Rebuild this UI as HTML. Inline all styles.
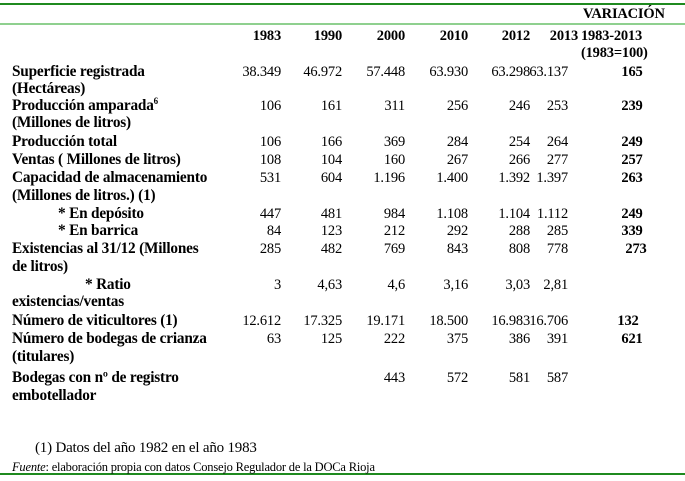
<!DOCTYPE html>
<html><head><meta charset="utf-8"><style>
body{margin:0;width:685px;height:481px;background:#fff;position:relative;overflow:hidden;font-family:"Liberation Serif","Times New Roman","DejaVu Serif",serif;font-size:14.5px;color:#000}
div.t{position:absolute;white-space:nowrap;line-height:16px;font-family:"Liberation Serif","Times New Roman","DejaVu Serif",serif;letter-spacing:-0.2px}
div.l{font-size:15.3px}
.b{font-weight:bold}
sup{font-size:9px;line-height:0;vertical-align:6px}
</style></head><body>
<div style="position:absolute;left:0;top:3px;width:685px;height:2px;background:#1f8a1f"></div>
<div style="position:absolute;left:0;top:23px;width:685px;height:2px;background:#8fd08f"></div>
<div style="position:absolute;left:0;top:473px;width:685px;height:2px;background:#1f8a1f"></div>
<div class="t b" style="left:583px;top:6px">VARIACIÓN</div>
<div class="t b" style="left:581px;top:28px">1983-2013</div>
<div class="t b" style="left:581px;top:45px">(1983=100)</div>
<script>
var cols=[281,342,405,468,530,568];
function cell(x,y,s,cls){var d=document.createElement('div');d.className='t '+(cls||'');d.style.top=(y-8)+'px';d.style.left=(x-80)+'px';d.style.width='80px';d.style.textAlign='right';d.textContent=s;document.body.appendChild(d);}
function lab(x,y,s){var d=document.createElement('div');d.className='t l b';d.style.left=x+'px';d.style.top=(y-8)+'px';d.innerHTML=s;document.body.appendChild(d);}
var yrs=['1983','1990','2000','2010','2012','2013'];
yrs.forEach(function(v,i){cell(i==5?578:cols[i],36,v,'b');});
var rows=[
[72,12,'Superficie registrada',['38.349','46.972','57.448','63.930','63.298','63.137'],'165'],
[89,12,'(Hectáreas)'],
[106,12,'Producción amparada<sup>6</sup>',['106','161','311','256','246','253'],'239'],
[123,12,'(Millones de litros)'],
[142,12,'Producción total',['106','166','369','284','254','264'],'249'],
[160,12,'Ventas ( Millones de litros)',['108','104','160','267','266','277'],'257'],
[178,12,'Capacidad de almacenamiento',['531','604','1.196','1.400','1.392','1.397'],'263'],
[196,12,'(Millones de litros.) (1)'],
[214,58,'* En depósito',['447','481','984','1.108','1.104','1.112'],'249'],
[231,58,'* En barrica',['84','123','212','292','288','285'],'339'],
[249,12,'Existencias al 31/12 (Millones',['285','482','769','843','808','778'],'273',4],
[267,12,'de litros)'],
[285,85,'* Ratio',['3','4,63','4,6','3,16','3,03','2,81']],
[302,12,'existencias/ventas'],
[321,12,'Número de viticultores (1)',['12.612','17.325','19.171','18.500','16.983','16.706'],'132',-4],
[339,12,'Número de bodegas de crianza',['63','125','222','375','386','391'],'621'],
[357,12,'(titulares)'],
[378,12,'Bodegas con nº de registro',['','','443','572','581','587']],
[396,12,'embotellador']
];
rows.forEach(function(r){lab(r[1],r[0],r[2]);if(r[3])r[3].forEach(function(v,i){if(v)cell(cols[i],r[0],v);});if(r[4]){var d=document.createElement('div');d.className='t b';d.style.left=(600+(r[5]||0))+'px';d.style.width='64px';d.style.textAlign='center';d.style.top=(r[0]-8)+'px';d.textContent=r[4];document.body.appendChild(d);}});
</script>
<div class="t" style="left:35px;top:440px;font-size:15px">(1) Datos del año 1982 en el año 1983</div>
<div class="t" style="left:12px;top:459px;font-size:12.5px"><i>Fuente</i>: elaboración propia con datos Consejo Regulador de la DOCa Rioja</div>
</body></html>
